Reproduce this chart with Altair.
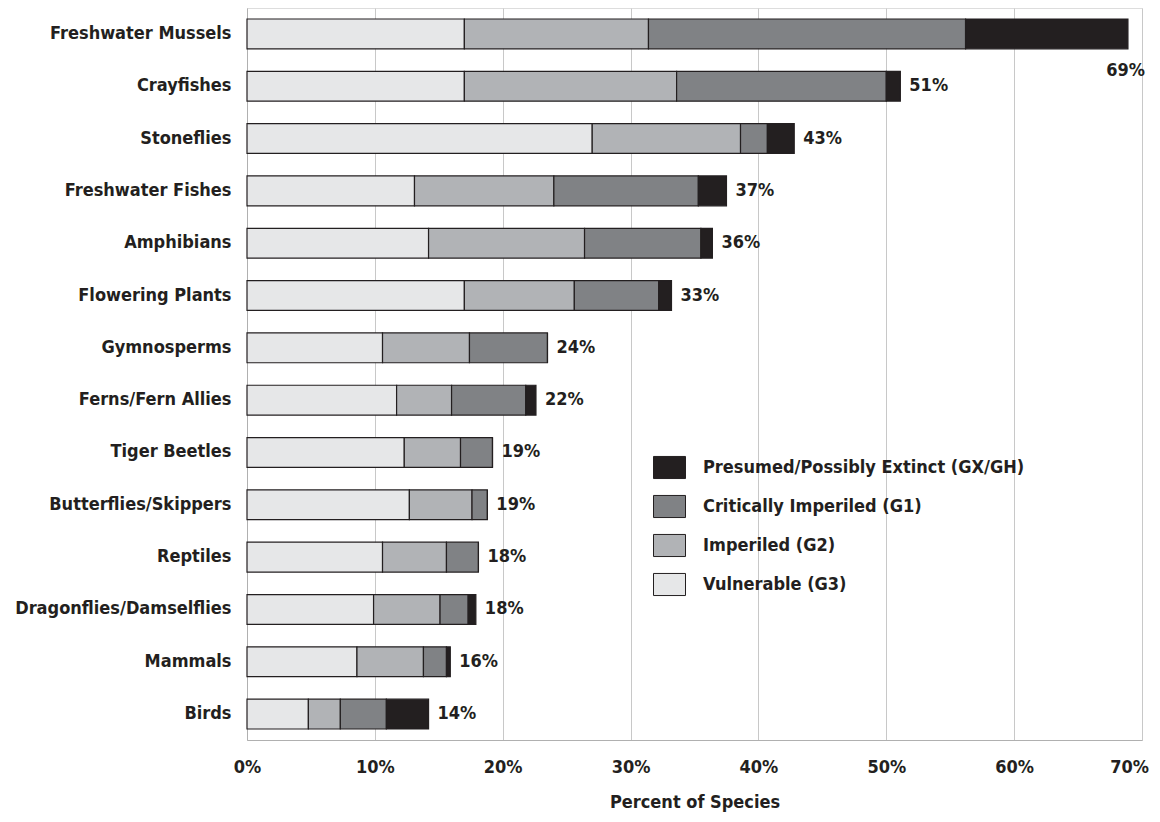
import altair as alt
import pandas as pd

categories = ["Freshwater Mussels", "Crayfishes", "Stoneflies", "Freshwater Fishes",
              "Amphibians", "Flowering Plants", "Gymnosperms", "Ferns/Fern Allies",
              "Tiger Beetles", "Butterflies/Skippers", "Reptiles",
              "Dragonflies/Damselflies", "Mammals", "Birds"]
g3 = [17.0, 17.0, 27.0, 13.1, 14.2, 17.0, 10.6, 11.7, 12.3, 12.7, 10.6, 9.9, 8.6, 4.8]
g2 = [14.4, 16.6, 11.6, 10.9, 12.2, 8.6, 6.8, 4.3, 4.4, 4.9, 5.0, 5.2, 5.2, 2.5]
g1 = [24.8, 16.4, 2.1, 11.3, 9.1, 6.6, 6.1, 5.8, 2.5, 1.2, 2.5, 2.2, 1.8, 3.6]
gx = [12.7, 1.1, 2.1, 2.2, 0.9, 1.0, 0.0, 0.8, 0.0, 0.0, 0.0, 0.6, 0.3, 3.3]
total_labels = ["69%", "51%", "43%", "37%", "36%", "33%", "24%", "22%",
                "19%", "19%", "18%", "18%", "16%", "14%"]
statuses = ["Vulnerable (G3)", "Imperiled (G2)", "Critically Imperiled (G1)",
            "Presumed/Possibly Extinct (GX/GH)"]
colors = ["#e6e7e8", "#b1b3b6", "#808285", "#231f20"]

rows = []
for i, c in enumerate(categories):
    for k, (s, v) in enumerate(zip(statuses, [g3[i], g2[i], g1[i], gx[i]])):
        rows.append({"category": c, "status": s, "value": v, "order": k})
df = pd.DataFrame(rows)

tot = pd.DataFrame({
    "category": categories,
    "total": [a + b + c + d for a, b, c, d in zip(g3, g2, g1, gx)],
    "label": total_labels,
})

FONT = "Liberation Sans Narrow, DejaVu Sans Condensed, Arial Narrow, sans-serif"
FS = 18

y_enc = alt.Y("category:N", sort=categories, title=None,
              scale=alt.Scale(paddingInner=0.43, paddingOuter=0.21),
              axis=alt.Axis(labelFontSize=FS, labelFontWeight="bold", labelFont=FONT,
                            labelColor="#231f20", ticks=False, labelPadding=16,
                            domainColor="#b0b0b0", labelLimit=300))

bars = alt.Chart(df).mark_bar(stroke="#231f20", strokeWidth=1.2).encode(
    x=alt.X("value:Q", stack="zero", title="Percent of Species",
            scale=alt.Scale(domain=[0, 70], nice=False),
            axis=alt.Axis(values=[0, 10, 20, 30, 40, 50, 60, 70],
                          labelExpr="datum.value + '%'", labelFlush=False,
                          labelOffset=alt.expr("datum.value == 70 ? -13 : 0"),
                          labelFontSize=FS, labelFontWeight="bold", labelFont=FONT,
                          labelColor="#231f20", ticks=False, labelPadding=18,
                          titleFontSize=FS, titleFontWeight="bold", titleFont=FONT,
                          titleColor="#231f20", titlePadding=17,
                          gridColor="#c8c8c8", domainColor="#b0b0b0")),
    y=y_enc,
    color=alt.Color("status:N",
                    scale=alt.Scale(domain=statuses[::-1], range=colors[::-1]),
                    legend=alt.Legend(title=None, orient="none", legendX=406, legendY=443,
                                      direction="vertical",
                                      symbolType="M-1,-0.69H1V0.69H-1Z", symbolSize=1024,
                                      symbolStrokeColor="#231f20", symbolStrokeWidth=1,
                                      labelFontSize=FS, labelFontWeight="bold",
                                      labelFont=FONT, labelColor="#231f20",
                                      labelOffset=17, rowPadding=9, padding=0,
                                      labelLimit=400)),
    order=alt.Order("order:Q"),
)

labels = alt.Chart(tot).transform_filter(
    alt.datum.category != "Freshwater Mussels"
).mark_text(align="left", baseline="middle", dx=9, fontSize=FS,
            fontWeight="bold", font=FONT, color="#231f20").encode(
    x="total:Q", y=alt.Y("category:N", sort=categories), text="label:N")

label_top = alt.Chart(tot).transform_filter(
    alt.datum.category == "Freshwater Mussels"
).mark_text(align="right", baseline="middle", dx=17, dy=37, fontSize=FS,
            fontWeight="bold", font=FONT, color="#231f20").encode(
    x="total:Q", y=alt.Y("category:N", sort=categories), text="label:N")

chart = alt.layer(bars, labels, label_top).properties(
    width=895, height=732,
    autosize=alt.AutoSizeParams(type="none"),
    padding={"left": 239, "top": 0, "right": 10, "bottom": 74},
).configure_view(stroke=None).configure(background="white")

chart.save("out.html", embed_options={"renderer": "svg", "actions": False})
